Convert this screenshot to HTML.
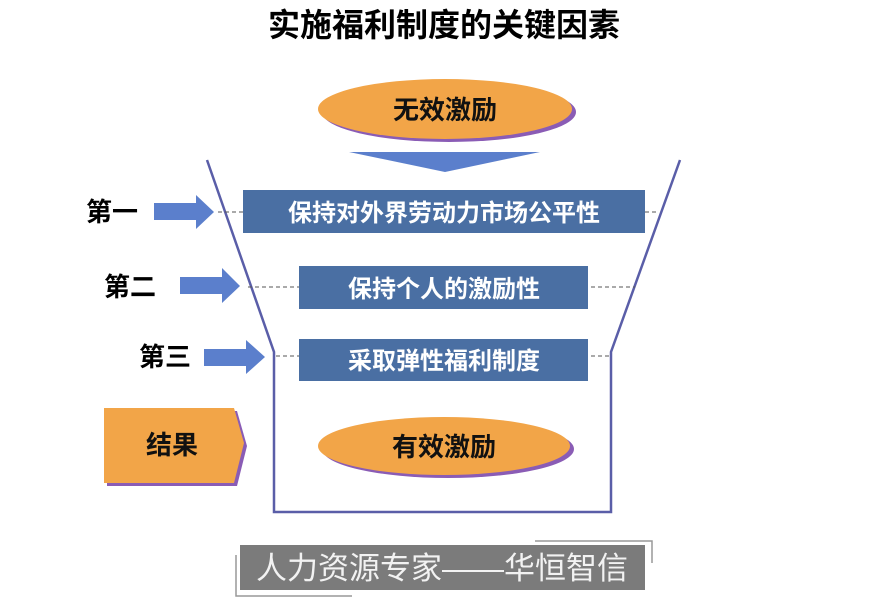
<!DOCTYPE html>
<html><head><meta charset="utf-8"><style>
html,body{margin:0;padding:0;background:#fff;}
svg{display:block;}
text{font-family:"Liberation Sans","Noto Sans CJK SC","WenQuanYi Zen Hei",sans-serif;}
</style></head><body>
<svg width="888" height="601" viewBox="0 0 888 601" xmlns="http://www.w3.org/2000/svg">
<text x="444" y="36" font-size="32" font-weight="bold" text-anchor="middle" fill="#000">实施福利制度的关键因素</text>

<ellipse cx="449" cy="112" rx="127" ry="30" fill="#8a5cb5"/>
<ellipse cx="445" cy="109" rx="127" ry="30" fill="#f2a548"/>
<text x="445" y="119" font-size="26" font-weight="bold" text-anchor="middle" fill="#111">无效激励</text>

<polygon points="349,152 540,152 445,172" fill="#5b7fcc"/>

<polyline points="207,160 274,352 274,512 611,512 611,352 680,160" fill="none" stroke="#5a5ea8" stroke-width="2.5"/>

<g stroke="#555" stroke-width="1" stroke-dasharray="4,3">
<line x1="218" y1="212" x2="658" y2="212"/>
<line x1="248" y1="287" x2="635" y2="287"/>
<line x1="276" y1="356" x2="611" y2="356"/>
</g>

<rect x="243" y="190" width="402" height="43" fill="#4a6fa3"/>
<text x="444" y="221" font-size="24" font-weight="bold" text-anchor="middle" fill="#fff">保持对外界劳动力市场公平性</text>
<rect x="299" y="266" width="289" height="43" fill="#4a6fa3"/>
<text x="444" y="297" font-size="24" font-weight="bold" text-anchor="middle" fill="#fff">保持个人的激励性</text>
<rect x="299" y="339" width="289" height="42" fill="#4a6fa3"/>
<text x="444" y="369" font-size="24" font-weight="bold" text-anchor="middle" fill="#fff">采取弹性福利制度</text>

<g fill="#5b7fcc">
<polygon points="154,203 196,203 196,195 214,212 196,229 196,220 154,220"/>
<polygon points="180,277 222,277 222,268 240,286 222,303 222,294 180,294"/>
<polygon points="204,349 246,349 246,340 265,357 246,374 246,366 204,366"/>
</g>
<text x="112" y="221" font-size="26" font-weight="bold" text-anchor="middle" fill="#000">第一</text>
<text x="130" y="296" font-size="26" font-weight="bold" text-anchor="middle" fill="#000">第二</text>
<text x="165" y="366" font-size="26" font-weight="bold" text-anchor="middle" fill="#000">第三</text>

<polygon points="107,411 237,411 247,446 237,486 107,486" fill="#8a5cb5"/>
<polygon points="104,408 234,408 244,443 234,483 104,483" fill="#f2a548"/>
<text x="172" y="454" font-size="26" font-weight="bold" text-anchor="middle" fill="#111">结果</text>

<ellipse cx="448" cy="449" rx="126" ry="29" fill="#8a5cb5"/>
<ellipse cx="444" cy="446" rx="126" ry="29" fill="#f2a548"/>
<text x="444" y="456" font-size="26" font-weight="bold" text-anchor="middle" fill="#111">有效激励</text>

<rect x="240" y="545" width="405" height="45" fill="#7b7b7b"/>
<text x="442" y="579" font-size="31" text-anchor="middle" fill="#f2f2f2">人力资源专家——华恒智信</text>
<polyline points="535,541 652,541 652,563" fill="none" stroke="#999" stroke-width="1.5"/>
<polyline points="236,555 236,596 352,596" fill="none" stroke="#999" stroke-width="1.5"/>
</svg>
</body></html>
